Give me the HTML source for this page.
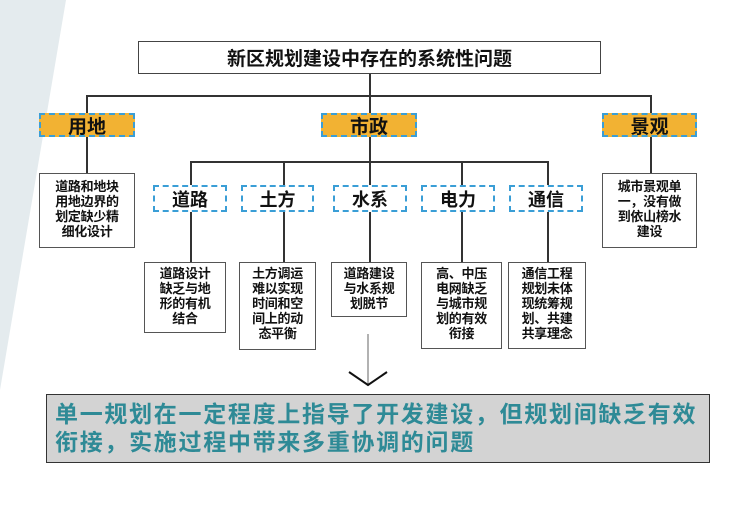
<!DOCTYPE html>
<html><head><meta charset="utf-8"><style>
body{margin:0;width:731px;height:506px;background:#fff;position:relative;overflow:hidden;font-family:"Liberation Sans","Noto Sans CJK SC",sans-serif;font-weight:bold;color:#111}
.a{position:absolute;box-sizing:border-box}
.t{border:1.5px solid #444;background:#fff;display:flex;align-items:center;justify-content:center;text-align:center}
.o{border:2.5px dashed #3a9ed6;background:#f2b233;display:flex;align-items:center;justify-content:center;font-size:19px}
.d{border:2.5px dashed #3a9ed6;background:#fff;display:flex;align-items:center;justify-content:center;font-size:18px}
.s{border:1.5px solid #555;background:#fff;font-size:13px;line-height:15px;text-align:center;padding-top:3px;letter-spacing:-0.3px}
.h{position:absolute;height:1.5px;background:#333}
.v{position:absolute;width:1.5px;background:#333}
</style></head><body>
<svg class="a" style="left:0;top:0" width="731" height="506"><polygon points="0,0 66,0 0,390" fill="#e4ebee"/></svg>
<div class="a t" style="left:138px;top:41px;width:463px;height:33px;font-size:19px">新区规划建设中存在的系统性问题</div>
<div class="v" style="left:369px;top:74px;height:22px"></div>
<div class="h" style="left:86px;top:95px;width:565px"></div>
<div class="v" style="left:86px;top:95px;height:18px"></div>
<div class="v" style="left:369px;top:95px;height:18px"></div>
<div class="v" style="left:650px;top:95px;height:18px"></div>
<div class="a o" style="left:39px;top:113px;width:96px;height:24px">用地</div>
<div class="a o" style="left:321px;top:113px;width:96px;height:24px">市政</div>
<div class="a o" style="left:602px;top:113px;width:95px;height:24px">景观</div>
<div class="v" style="left:86px;top:137px;height:36px"></div>
<div class="v" style="left:650px;top:137px;height:36px"></div>
<div class="v" style="left:369px;top:137px;height:25px"></div>
<div class="a s" style="left:39px;top:173px;width:96px;height:75px;padding-top:5px">道路和地块<br>用地边界的<br>划定缺少精<br>细化设计</div>
<div class="a s" style="left:602px;top:173px;width:95px;height:75px;padding-top:5px">城市景观单<br>一，没有做<br>到依山榜水<br>建设</div>
<div class="h" style="left:190px;top:161px;width:358px"></div>
<div class="v" style="left:190px;top:161px;height:101px"></div>
<div class="v" style="left:283px;top:161px;height:101px"></div>
<div class="v" style="left:369px;top:161px;height:101px"></div>
<div class="v" style="left:461px;top:161px;height:101px"></div>
<div class="v" style="left:547px;top:161px;height:101px"></div>
<div class="a d" style="left:153px;top:185px;width:74px;height:27px">道路</div>
<div class="a d" style="left:241px;top:185px;width:73px;height:27px">土方</div>
<div class="a d" style="left:333px;top:185px;width:74px;height:27px">水系</div>
<div class="a d" style="left:421px;top:185px;width:74px;height:27px">电力</div>
<div class="a d" style="left:509px;top:185px;width:74px;height:27px">通信</div>
<div class="a s" style="left:144px;top:262px;width:82px;height:71px">道路设计<br>缺乏与地<br>形的有机<br>结合</div>
<div class="a s" style="left:239px;top:262px;width:77px;height:88px">土方调运<br>难以实现<br>时间和空<br>间上的动<br>态平衡</div>
<div class="a s" style="left:331px;top:262px;width:76px;height:55px">道路建设<br>与水系规<br>划脱节</div>
<div class="a s" style="left:421px;top:262px;width:81px;height:87px">高、中压<br>电网缺乏<br>与城市规<br>划的有效<br>衔接</div>
<div class="a s" style="left:508px;top:262px;width:78px;height:87px">通信工程<br>规划未体<br>现统筹规<br>划、共建<br>共享理念</div>
<svg class="a" style="left:0;top:0" width="731" height="506"><line x1="368" y1="334" x2="368" y2="384" stroke="#666" stroke-width="1"/><polyline points="349,372 368,385 387,372" fill="none" stroke="#111" stroke-width="2"/></svg>
<div class="a" style="left:46px;top:394px;width:664px;height:69px;background:#d3d3d3;border:1.5px solid #333;color:#2e8a96;font-size:23px;line-height:28px;padding:5px 0 0 8px;letter-spacing:1.7px;white-space:nowrap">单一规划在一定程度上指导了开发建设，但规划间缺乏有效<br>衔接，实施过程中带来多重协调的问题</div>
</body></html>
